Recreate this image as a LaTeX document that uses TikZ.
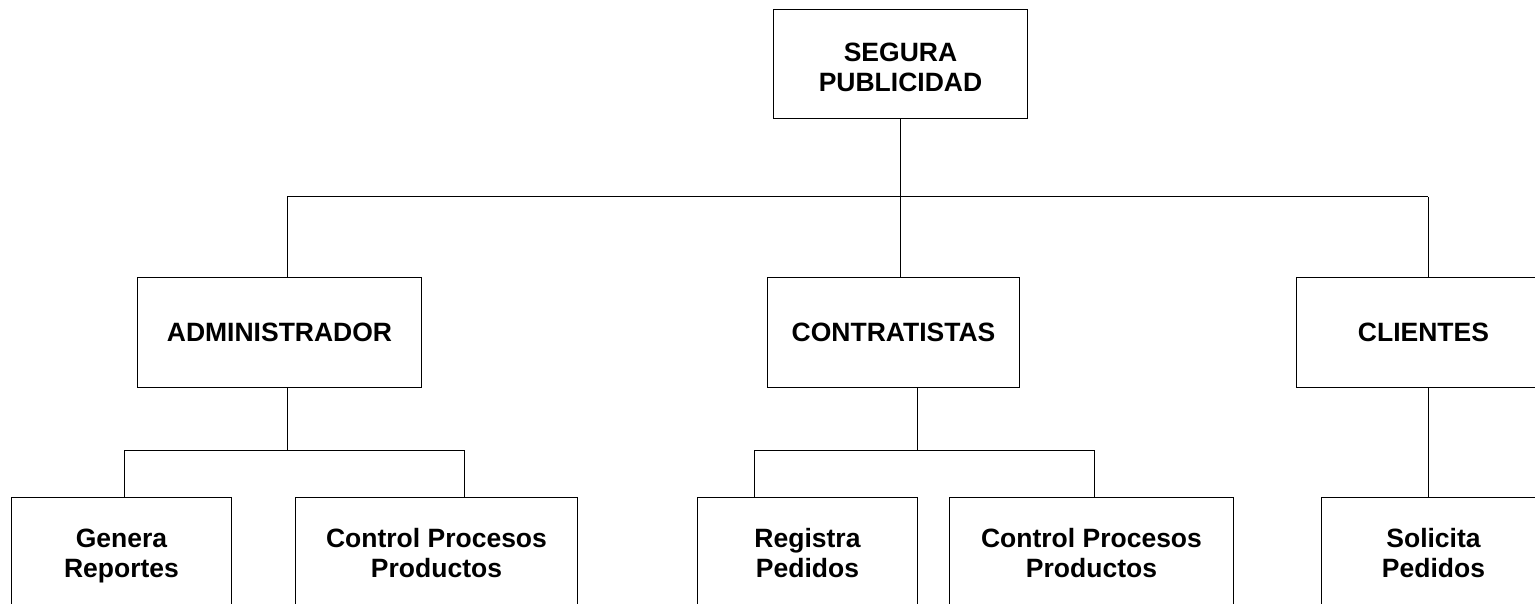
\documentclass[tikz,border=0pt]{standalone}
\usepackage{fontspec}
\setmainfont{Liberation Sans}
\begin{document}
\begin{tikzpicture}[x=1pt,y=-1pt,
  box/.style={draw=black, line width=1pt, fill=white, anchor=north west, inner sep=0pt, align=center, font=\bfseries\fontsize{26.5}{30}\selectfont},
  link/.style={draw=black, line width=1pt}]
\useasboundingbox (0,0) rectangle (1535,604);
\clip (0,0) rectangle (1535,604);
% boxes
\node[box, minimum width=254pt, minimum height=109pt] (root) at (773,9) {SEGURA\rule{0pt}{24.5pt}\\PUBLICIDAD};
\node[box, minimum width=284pt, minimum height=110pt] (adm) at (137,277) {ADMINISTRADOR};
\node[box, minimum width=252pt, minimum height=110pt] (con) at (767,277) {CONTRATISTAS};
\node[box, minimum width=254pt, minimum height=110pt] (cli) at (1296,277) {CLIENTES};
\node[box, minimum width=220pt, minimum height=117pt] (gen) at (11,497) {Genera\\Reportes};
\node[box, minimum width=282pt, minimum height=117pt] (cp1) at (295,497) {Control Procesos\\Productos\vphantom{p}};
\node[box, minimum width=220pt, minimum height=117pt] (reg) at (697,497) {Registra\\Pedidos\vphantom{p}};
\node[box, minimum width=284pt, minimum height=117pt] (cp2) at (949,497) {Control Procesos\\Productos\vphantom{p}};
\node[box, minimum width=224pt, minimum height=117pt] (sol) at (1321,497) {Solicita\\Pedidos\vphantom{p}};
% junction points
\coordinate (b0l) at (287,197);
\coordinate (b0r) at (1428,197);
\coordinate (b1l) at (124,450);
\coordinate (b1r) at (464,450);
\coordinate (b2l) at (754,450);
\coordinate (b2r) at (1094,450);
\coordinate (c2) at (917,450);
% connectors level 1
\draw[link] (root.south) -- (root.south |- b0l);
\draw[link] (b0l) -- (b0r);
\draw[link] (b0l) -- (b0l |- adm.north);
\draw[link] (root.south |- b0l) -- (root.south |- con.north);
\draw[link] (b0r) -- (b0r |- cli.north);
% administrador
\draw[link] (b0l |- adm.south) -- (b0l |- b1l);
\draw[link] (b1l) -- (b1r);
\draw[link] (b1l) -- (b1l |- gen.north);
\draw[link] (b1r) -- (b1r |- cp1.north);
% contratistas
\draw[link] (c2 |- con.south) -- (c2);
\draw[link] (b2l) -- (b2r);
\draw[link] (b2l) -- (b2l |- reg.north);
\draw[link] (b2r) -- (b2r |- cp2.north);
% clientes
\draw[link] (b0r |- cli.south) -- (b0r |- sol.north);
\end{tikzpicture}
\end{document}
